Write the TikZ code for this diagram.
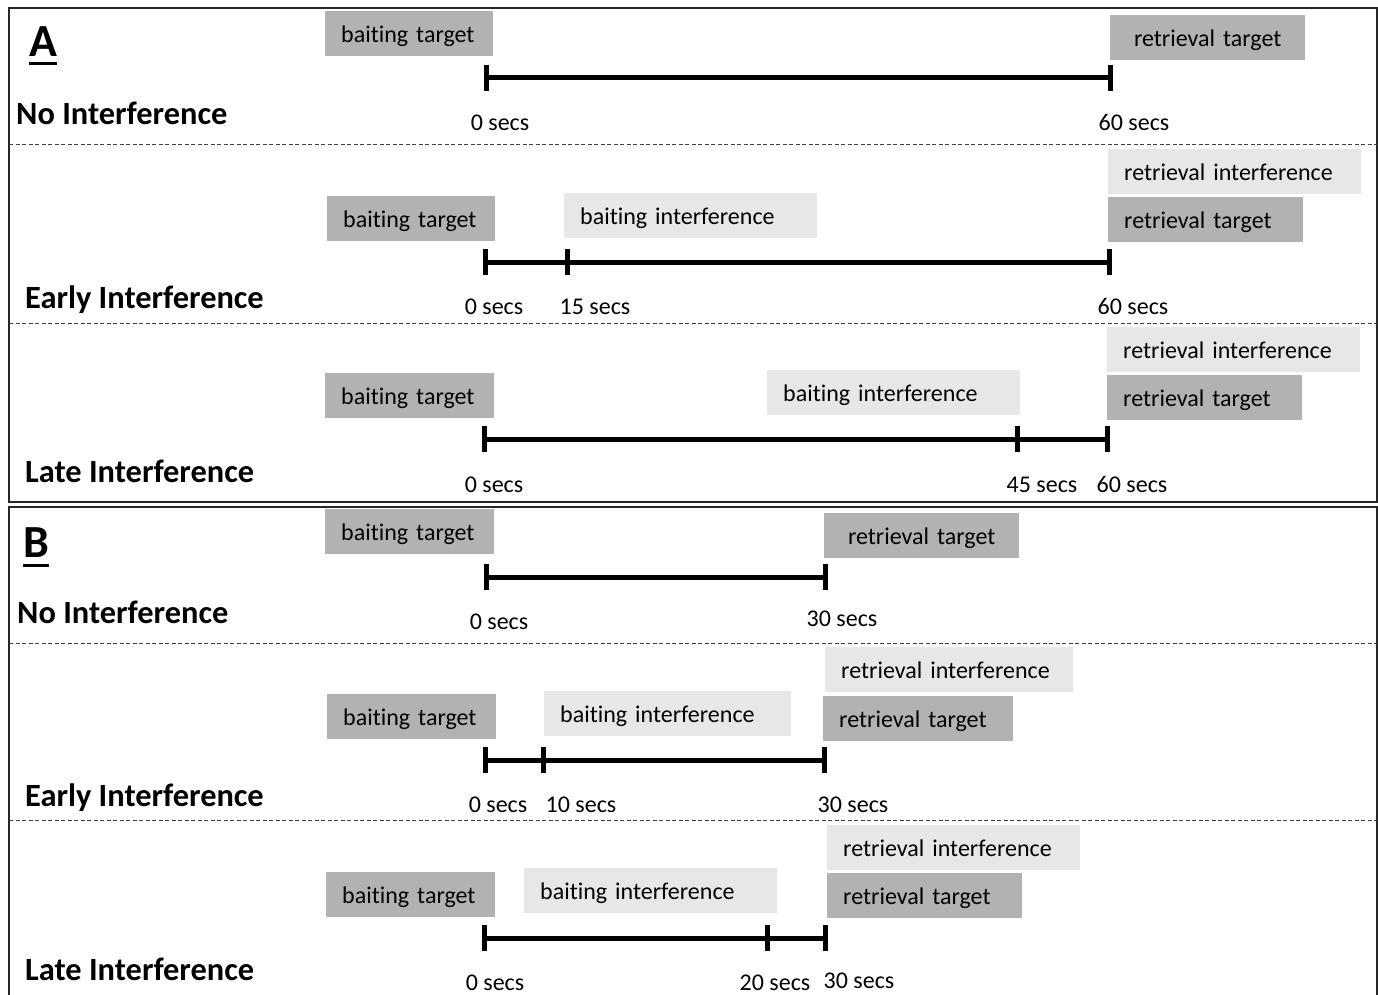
\documentclass[tikz,border=0pt]{standalone}
\usepackage{fontspec}
\setmainfont[Ligatures={NoCommon}]{Carlito}
\definecolor{tgt}{RGB}{178,178,178}
\definecolor{intf}{RGB}{231,231,231}
\begin{document}
\begin{tikzpicture}[x=1pt,y=-1pt,
  box/.style={anchor=north west, minimum height=45pt, inner ysep=0pt, inner xsep=16pt,
    text height=21pt, text depth=3pt, align=left, font=\fontsize{24}{28}\selectfont},
  tbox/.style={box, fill=tgt},
  ibox/.style={box, fill=intf},
  secs/.style={anchor=base, inner sep=0pt, font=\fontsize{24}{28}\selectfont},
  cond/.style={anchor=base west, inner sep=0pt, font=\fontsize{32.4}{38}\selectfont\bfseries},
  panel/.style={anchor=base west, inner sep=0pt, font=\fontsize{46}{50}\selectfont\bfseries},
  tline/.style={line width=5pt},
  tick/.style={line width=5pt},
  frame/.style={line width=2.2pt, draw=black!85},
  sep/.style={line width=1pt, draw=black!75, dash pattern=on 4pt off 2.5pt}
]
\useasboundingbox (0,0) rectangle (1378,995);
\fill[white] (0,0) rectangle (1378,995);

% frames and separators
\draw[frame] (9,8) rectangle (1377,502);
\draw[frame] (9,507) rectangle (1377,1005);
\draw[sep] (9,145) -- (1377,145);
\draw[sep] (9,323) -- (1377,323);
\draw[sep] (9,643) -- (1377,643);
\draw[sep] (9,820) -- (1377,820);

% panel letters
\node[panel] (pA) at (29,57) {A};
\draw[line width=3pt] (pA.south west |- 0,64) -- (pA.south east |- 0,64);
\node[panel] (pB) at (23,557) {B};
\draw[line width=3pt] (pB.south west |- 0,565) -- (pB.south east |- 0,565);

% condition labels
\node[cond] (a1l) at (16,125) {No Interference};
\node[cond] (a2l) at (25,308) {Early Interference};
\node[cond] (a3l) at (25,482) {Late Interference};
\node[cond] (b1l) at (17,623) {No Interference};
\node[cond] (b2l) at (25,806) {Early Interference};
\node[cond] (b3l) at (25,980) {Late Interference};

% ===== Panel A, row 1 =====
\node[tbox, text width=136pt] (a1bt) at (325,11) {baiting target};
\node[tbox, text width=163pt, align=center] (a1rt) at (1110,15) {retrieval target};
\coordinate (a1s) at (486,78);
\coordinate (a1e) at (1110,78);
\draw[tline] (a1s) -- (a1e);
\foreach \c in {a1s,a1e} \draw[tick] ([yshift=13pt]\c) -- ([yshift=-13pt]\c);
\node[secs] (a1t0) at (500,131) {0 secs};
\node[secs] (a1t60) at (1134,131) {60 secs};

% ===== Panel A, row 2 =====
\node[tbox, text width=136pt] (a2bt) at (327,196) {baiting target};
\node[ibox, text width=221pt] (a2bi) at (564,193) {baiting interference};
\node[ibox, text width=221pt] (a2ri) at (1108,149) {retrieval interference};
\node[tbox, text width=163pt] (a2rt) at (1108,197) {retrieval target};
\coordinate (a2s) at (485,262);
\coordinate (a2m) at (567,262);
\coordinate (a2e) at (1109,262);
\draw[tline] (a2s) -- (a2e);
\foreach \c in {a2s,a2m,a2e} \draw[tick] ([yshift=13pt]\c) -- ([yshift=-13pt]\c);
\node[secs] (a2t0) at (494,314) {0 secs};
\node[secs] (a2t15) at (595,314) {15 secs};
\node[secs] (a2t60) at (1133,314) {60 secs};

% ===== Panel A, row 3 =====
\node[tbox, text width=137pt] (a3bt) at (325,373) {baiting target};
\node[ibox, text width=221pt] (a3bi) at (767,370) {baiting interference};
\node[ibox, text width=221pt] (a3ri) at (1107,327) {retrieval interference};
\node[tbox, text width=163pt] (a3rt) at (1107,375) {retrieval target};
\coordinate (a3s) at (484,439);
\coordinate (a3m) at (1017,439);
\coordinate (a3e) at (1107,439);
\draw[tline] (a3s) -- (a3e);
\foreach \c in {a3s,a3m,a3e} \draw[tick] ([yshift=13pt]\c) -- ([yshift=-13pt]\c);
\node[secs] (a3t0) at (494,492) {0 secs};
\node[secs] (a3t45) at (1042,492) {45 secs};
\node[secs] (a3t60) at (1132,492) {60 secs};

% ===== Panel B, row 1 =====
\node[tbox, text width=137pt] (b1bt) at (325,509) {baiting target};
\node[tbox, text width=163pt, align=center] (b1rt) at (824,513) {retrieval target};
\coordinate (b1s) at (486,577);
\coordinate (b1e) at (825,577);
\draw[tline] (b1s) -- (b1e);
\foreach \c in {b1s,b1e} \draw[tick] ([yshift=13pt]\c) -- ([yshift=-13pt]\c);
\node[secs] (b1t0) at (499,629) {0 secs};
\node[secs] (b1t30) at (842,626) {30 secs};

% ===== Panel B, row 2 =====
\node[tbox, text width=137pt] (b2bt) at (327,694) {baiting target};
\node[ibox, text width=215pt] (b2bi) at (544,691) {baiting interference};
\node[ibox, text width=216pt] (b2ri) at (825,647) {retrieval interference};
\node[tbox, text width=158pt] (b2rt) at (823,696) {retrieval target};
\coordinate (b2s) at (485,760);
\coordinate (b2m) at (543,760);
\coordinate (b2e) at (824,760);
\draw[tline] (b2s) -- (b2e);
\foreach \c in {b2s,b2m,b2e} \draw[tick] ([yshift=13pt]\c) -- ([yshift=-13pt]\c);
\node[secs] (b2t0) at (498,812) {0 secs};
\node[secs] (b2t10) at (581,812) {10 secs};
\node[secs] (b2t30) at (853,812) {30 secs};

% ===== Panel B, row 3 =====
\node[tbox, text width=137pt] (b3bt) at (326,872) {baiting target};
\node[ibox, text width=221pt] (b3bi) at (524,868) {baiting interference};
\node[ibox, text width=221pt] (b3ri) at (827,825) {retrieval interference};
\node[tbox, text width=163pt] (b3rt) at (827,873) {retrieval target};
\coordinate (b3s) at (484,938);
\coordinate (b3m) at (767,938);
\coordinate (b3e) at (825,938);
\draw[tline] (b3s) -- (b3e);
\foreach \c in {b3s,b3m,b3e} \draw[tick] ([yshift=13pt]\c) -- ([yshift=-13pt]\c);
\node[secs] (b3t0) at (495,990) {0 secs};
\node[secs] (b3t20) at (775,990) {20 secs};
\node[secs] (b3t30) at (859,988) {30 secs};
\end{tikzpicture}
\end{document}
